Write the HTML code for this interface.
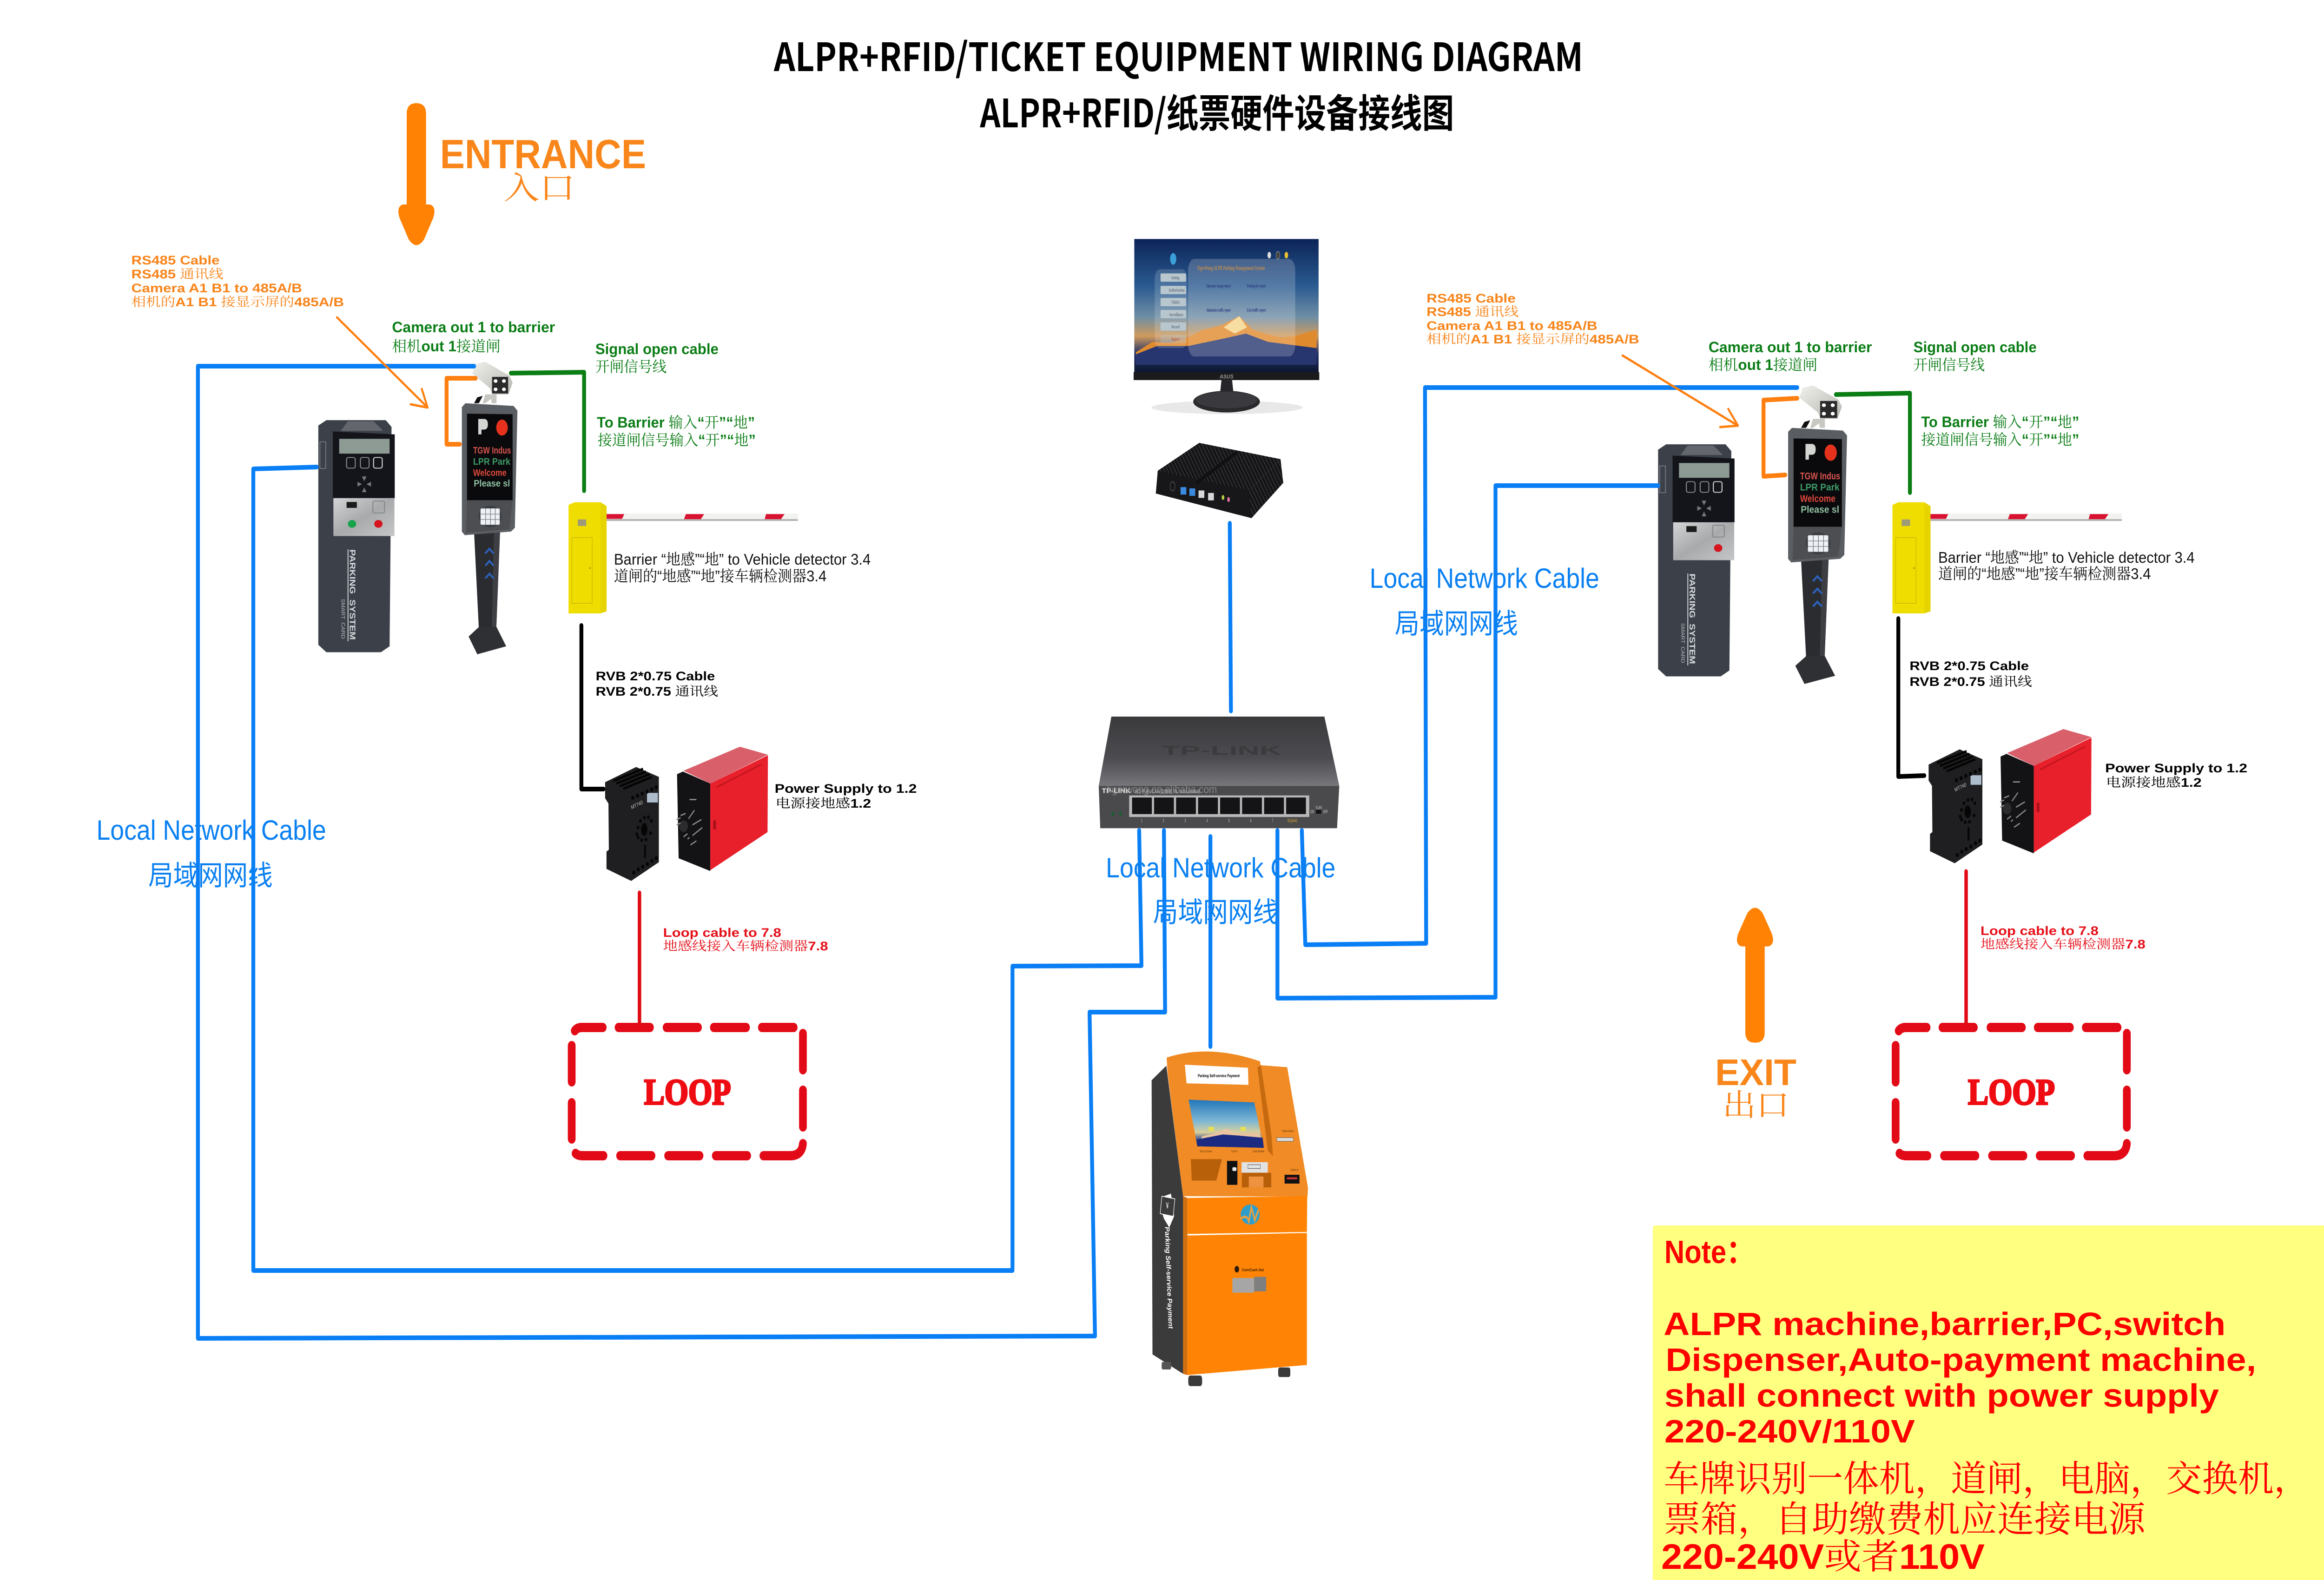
<!DOCTYPE html>
<html><head><meta charset="utf-8"><title>ALPR+RFID/Ticket Equipment Wiring Diagram</title>
<style>
html,body{margin:0;padding:0;background:#fff;width:100%;height:100%;overflow:hidden}
svg{display:block;position:absolute;left:0;top:0;width:100vw;height:100vh}
text{white-space:pre}
.b{font-family:"Liberation Sans","Noto Sans CJK SC",sans-serif;font-weight:700}
.r{font-family:"Liberation Sans","Noto Sans CJK SC",sans-serif;font-weight:400}
.c{font-family:"Noto Serif CJK SC","Liberation Serif",serif;font-weight:400}
.t{font-family:"Noto Sans CJK SC","Liberation Sans",sans-serif;font-weight:700;fill:#000;font-size:84px}
.or{fill:#f8841a;font-size:27px}
.gr{fill:#0b7d16;font-size:32px}
.gs{fill:#0b7d16;font-size:28px}
.bk{fill:#000;font-size:27px}
.rd{fill:#e5101a;font-size:27px}
.bl{fill:#0a80f2;font-size:60px}
.nt{fill:#ff0000;font-size:70px}
.led{font-family:"Liberation Sans",sans-serif;font-size:32px;font-weight:700}
.w{fill:none;stroke-linecap:round;stroke-linejoin:round}
</style></head>
<body>
<svg xmlns="http://www.w3.org/2000/svg" viewBox="0 0 6000 3400" preserveAspectRatio="none">
<defs>
<linearGradient id="steel" x1="0" y1="0" x2="1" y2="1"><stop offset="0" stop-color="#d2d4d6"/><stop offset=".5" stop-color="#a8aaac"/><stop offset="1" stop-color="#c4c6c8"/></linearGradient>
<linearGradient id="sky" x1="0" y1="0" x2="0" y2="1"><stop offset="0" stop-color="#0c2458"/><stop offset=".35" stop-color="#2a5a90"/><stop offset=".58" stop-color="#6f8ea4"/><stop offset=".72" stop-color="#d09a5c"/><stop offset=".85" stop-color="#1e2f6a"/><stop offset="1" stop-color="#0d1428"/></linearGradient>
<linearGradient id="ksky" x1="0" y1="0" x2="0" y2="1"><stop offset="0" stop-color="#2276ba"/><stop offset=".45" stop-color="#7fb7d4"/><stop offset=".68" stop-color="#d8cf9c"/><stop offset=".85" stop-color="#27408f"/><stop offset="1" stop-color="#17256c"/></linearGradient>
<linearGradient id="sw" x1="0" y1="0" x2="0" y2="1"><stop offset="0" stop-color="#3a3a3d"/><stop offset=".6" stop-color="#4c4c50"/><stop offset="1" stop-color="#77777b"/></linearGradient>
<linearGradient id="cam" x1="0" y1="0" x2="1" y2="1"><stop offset="0" stop-color="#f0f0ec"/><stop offset="1" stop-color="#b6b6b0"/></linearGradient>
<pattern id="fin" width="8" height="8" patternUnits="userSpaceOnUse" patternTransform="rotate(-30)"><rect width="8" height="8" fill="#141416"/><rect width="2" height="8" fill="#36363a"/></pattern>

<g id="pm">
<path d="M750,730 775,712 960,712 978,735 972,1475 945,1495 775,1495 750,1470Z" fill="#3c4049"/>
<path d="M820,748 842,716 922,716 952,748Z" fill="#63676d"/>
<path d="M795,750 988,760 988,975 795,975Z" fill="#13151a"/>
<rect x="815" y="775" width="157" height="50" fill="#8e9a94"/>
<rect x="838" y="838" width="27" height="36" rx="6" fill="none" stroke="#8a8c90" stroke-width="3"/>
<rect x="881" y="838" width="27" height="36" rx="6" fill="none" stroke="#8a8c90" stroke-width="3"/>
<rect x="922" y="838" width="27" height="36" rx="6" fill="none" stroke="#d8d8d8" stroke-width="3"/>
<path d="M886,902h14l-7,16zM886,955h14l-7,-16zM872,920v16l14,-8zM914,920v16l-14,-8z" fill="#777a7d"/>
<rect x="797" y="975" width="190" height="128" fill="url(#steel)"/>
<rect x="838" y="988" width="32" height="20" fill="#1b1b1b"/>
<rect x="920" y="985" width="36" height="40" rx="4" fill="none" stroke="#85878a" stroke-width="3"/>
<circle cx="937" cy="1062" r="13" fill="#d5141e"/>
<rect x="755" y="785" width="18" height="90" fill="none" stroke="#6f737a" stroke-width="3"/>
<rect x="841" y="1148" width="3" height="310" fill="#c8ccd0"/>
</g>

<g id="cp">
<path d="M1245,635 1235,655 1250,655 1262,630Z" fill="#111"/>
<path d="M1270,625 1305,625 1305,655 1290,655 1288,640 1270,655 1262,655Z" fill="#c8c8c2"/>
<path d="M1230,555 1240,522 1270,515 1345,562 1355,585 1342,625 1292,625 1285,605Z" fill="url(#cam)"/>
<rect x="1291" y="566" width="50" height="56" fill="#2a2a2a"/>
<circle cx="1302" cy="580" r="6" fill="#fff"/><circle cx="1328" cy="580" r="6" fill="#fff"/><circle cx="1302" cy="608" r="6" fill="#fff"/><circle cx="1328" cy="608" r="6" fill="#fff"/>
<path d="M1235,1090 1316,1085 1304,1420 1250,1420Z" fill="#2b2c30"/>
<path d="M1297,1087 1316,1085 1304,1420 1290,1420Z" fill="#3e3f44"/>
<path d="M1218,1442 1250,1410 1305,1410 1335,1475 1245,1502Z" fill="#2f3034"/>
<path d="M1197,668 1208,655 1358,664 1370,680 1362,1075 1350,1088 1206,1100 1197,1088Z" fill="#5a5d62"/>
<path d="M1213,690 1355,692 1355,985 1213,985Z" fill="#0a0a0c"/>
<path d="M1213,982 1355,982 1345,1080 1210,1092Z" fill="#4c4e52"/>
<path d="M1248,708h18q12,0 12,18t-12,18h-8v16h-10z" fill="#d4d6d4"/>
<ellipse cx="1322" cy="737" rx="18" ry="27" fill="#e6321c"/>
<ellipse cx="1285" cy="1037" rx="36" ry="36" fill="#3a3c40"/>
<rect x="1255" y="1010" width="60" height="55" rx="4" fill="#eef2f6"/>
<g fill="#7c8188"><rect x="1270" y="1010" width="2" height="55"/><rect x="1285" y="1010" width="2" height="55"/><rect x="1300" y="1010" width="2" height="55"/><rect x="1255" y="1028" width="60" height="2"/><rect x="1255" y="1046" width="60" height="2"/></g>
<path d="M1270,1162 1283,1146 1296,1162M1270,1203 1283,1187 1296,1203M1270,1246 1283,1230 1296,1246" fill="none" stroke="#2b62bd" stroke-width="6"/>
</g>

<g id="bar">
<path d="M168,606 190,597 285,597 308,610 308,965 285,972 168,972Z" fill="#f0dd00"/>
<path d="M285,597 308,610 308,965 285,972Z" fill="#e6d400"/>
<rect x="180" y="716" width="75" height="222" fill="none" stroke="#c4b400" stroke-width="2"/>
<rect x="202" y="655" width="31" height="22" fill="#9c9a78"/>
<circle cx="247" cy="819" r="3" fill="#a89800"/>
<rect x="308" y="635" width="704" height="25" fill="#f2f2f0"/>
<rect x="308" y="654" width="704" height="6" fill="#b0b0ae"/>
<path d="M308,637H373L365,653H308ZM600,637H667L655,654H593ZM895,637H963L950,654H890Z" fill="#d81230"/>
</g>

<g id="sock">
<path d="M318,145 475,88 590,125 590,445 450,515 325,470 325,405 337,398 335,225 318,205Z" fill="#1f1f21"/>
<path d="M360,140 510,95 M375,150 525,105 M392,160 542,115 M410,170 555,125" stroke="#050505" stroke-width="9" fill="none"/>
<rect x="530" y="185" width="55" height="36" fill="#aebccc"/>
<g fill="#060607"><circle cx="458" cy="204" r="8"/><circle cx="482" cy="196" r="8"/><circle cx="506" cy="188" r="8"/><circle cx="530" cy="180" r="8"/><circle cx="554" cy="172" r="8"/><circle cx="577" cy="164" r="8"/>
<circle cx="463" cy="484" r="8"/><circle cx="486" cy="472" r="8"/><circle cx="508" cy="462" r="8"/><circle cx="532" cy="452" r="8"/><circle cx="555" cy="440" r="8"/><circle cx="577" cy="430" r="8"/>
<ellipse cx="516" cy="322" rx="16" ry="24"/><circle cx="478" cy="340" r="7"/><circle cx="484" cy="315" r="7"/><circle cx="497" cy="290" r="7"/><circle cx="517" cy="278" r="7"/><circle cx="537" cy="276" r="7"/><circle cx="552" cy="290" r="7"/><circle cx="548" cy="336" r="7"/><circle cx="525" cy="360" r="7"/><circle cx="503" cy="362" r="7"/><circle cx="485" cy="352" r="7"/>
<rect x="515" y="380" width="10" height="50"/></g>
</g>

<g id="rbox">
<path d="M715,102 1000,12 1142,42 850,150Z" fill="#d9606a"/>
<path d="M850,150 1142,44 1140,332 850,475Z" fill="#e8202c"/>
<path d="M882,160 1112,74 1112,80 882,168Z" fill="#c81620"/>
<path d="M682,115 712,105 850,150 850,478 690,430Z" fill="#131315"/>
<circle cx="715" cy="310" r="22" fill="#2c2c2e"/>
<g stroke="#8a8a8a" stroke-width="5" fill="none"><path d="M700,270 725,262M740,282 770,250M760,305 805,285M760,345 810,315M715,350 735,338M680,285 700,278M680,305 700,298M735,358 745,352M750,380 780,365M745,210 780,210"/></g>
<rect x="865" y="288" width="14" height="34" fill="#a81018"/>
</g>

<g id="loop" fill="none" stroke="#e20a16" stroke-width="20" stroke-linecap="round" stroke-linejoin="round">
<path d="M1484,2218Q1490,2211 1502,2211H1556M1597,2211H1678M1721,2211H1802M1843,2211H1926M1967,2211H2049"/>
<path d="M1476,2250V2328M1476,2373V2451"/>
<path d="M2073,2224V2302M2073,2346V2425"/>
<path d="M1486,2482Q1492,2487 1504,2487H1558M1601,2487H1682M1725,2487H1806M1848,2487H1929M1971,2487H2040Q2070,2487 2073,2461"/>
</g>

<path id="arr" d="M1050,245Q1050,222 1075,222Q1100,222 1100,245L1100,440L1110,440Q1128,445 1118,470L1095,515Q1075,540 1055,515L1032,470Q1022,445 1040,440L1050,440Z" fill="#ff8205"/>
</defs>

<!-- titles -->
<text class="t" x="1998" y="153" textLength="2089" lengthAdjust="spacingAndGlyphs">ALPR+RFID/TICKET EQUIPMENT WIRING DIAGRAM</text>
<text class="t" x="2530" y="274" textLength="1224" lengthAdjust="spacingAndGlyphs">ALPR+RFID/纸票硬件设备接线图</text>

<!-- entrance / exit -->
<use href="#arr"/>
<text class="b" x="1136" y="362" font-size="88" fill="#f9861a" textLength="532" lengthAdjust="spacingAndGlyphs">ENTRANCE</text>
<text class="c" x="1300" y="428" font-size="68" fill="#f9861a" textLength="185" lengthAdjust="spacingAndGlyphs">入口</text>
<use href="#arr" transform="translate(4531,1953) scale(1,-.95) translate(-1075,-528)"/>
<text class="b" x="4428" y="2335" font-size="80" fill="#f9861a" textLength="210" lengthAdjust="spacingAndGlyphs">EXIT</text>
<text class="c" x="4447" y="2401" font-size="66" fill="#f9861a" textLength="173" lengthAdjust="spacingAndGlyphs">出口</text>

<!-- devices left -->
<g transform="translate(200,450) scale(.8291,.6378)">
<use href="#pm"/>
<circle cx="855" cy="1062" r="13" fill="#16a34a"/>
<text class="b" transform="translate(848,1148) rotate(90)" font-size="26" fill="#d6d9dc" textLength="305" lengthAdjust="spacingAndGlyphs">PARKING  SYSTEM</text>
<text class="r" transform="translate(822,1315) rotate(90)" font-size="16" fill="#b6babd" textLength="135" lengthAdjust="spacingAndGlyphs">SMART  CARD</text>
<use href="#cp"/>
<text class="led" x="1232" y="825" fill="#d9544f" textLength="118" lengthAdjust="spacingAndGlyphs">TGW Indus</text>
<text class="led" x="1232" y="862" fill="#3f9a68" textLength="116" lengthAdjust="spacingAndGlyphs">LPR Park</text>
<text class="led" x="1232" y="900" fill="#e0483c" textLength="104" lengthAdjust="spacingAndGlyphs">Welcome</text>
<text class="led" x="1234" y="936" fill="#8fc0a2" textLength="113" lengthAdjust="spacingAndGlyphs">Please sl</text>
</g>
<g transform="translate(1350,700) scale(.7015,.6378)"><use href="#bar"/></g>
<g transform="translate(1400,1600) scale(.5102,.574)"><use href="#sock"/><use href="#rbox"/>
<text class="r" x="452" y="247" font-size="20" fill="#c8c8c8" transform="rotate(-20 452 247)">MT740</text></g>
<use href="#loop"/>
<text x="1663" y="2376" font-family="Liberation Serif,serif" font-weight="700" font-size="78" fill="#ee0c12" stroke="#ee0c12" stroke-width="4" textLength="224" lengthAdjust="spacingAndGlyphs">LOOP</text>

<!-- devices right -->
<g transform="translate(3459,52)"><g transform="translate(200,450) scale(.8291,.6378)">
<use href="#pm"/>
<text class="b" transform="translate(848,1148) rotate(90)" font-size="26" fill="#d6d9dc" textLength="305" lengthAdjust="spacingAndGlyphs">PARKING  SYSTEM</text>
<text class="r" transform="translate(822,1315) rotate(90)" font-size="16" fill="#b6babd" textLength="135" lengthAdjust="spacingAndGlyphs">SMART  CARD</text>
</g></g>
<g transform="translate(4615,921) scale(1.06,1.02) translate(-1191,-868)"><g transform="translate(200,450) scale(.8291,.6378)">
<use href="#cp"/>
<text class="led" x="1232" y="825" fill="#d9544f" textLength="118" lengthAdjust="spacingAndGlyphs">TGW Indus</text>
<text class="led" x="1232" y="862" fill="#3f9a68" textLength="116" lengthAdjust="spacingAndGlyphs">LPR Park</text>
<text class="led" x="1232" y="900" fill="#e0483c" textLength="104" lengthAdjust="spacingAndGlyphs">Welcome</text>
<text class="led" x="1234" y="936" fill="#8fc0a2" textLength="113" lengthAdjust="spacingAndGlyphs">Please sl</text>
</g></g>
<g transform="translate(3418,0)"><g transform="translate(1350,700) scale(.7015,.6378)"><use href="#bar"/></g></g>
<g transform="translate(3417,-38)"><g transform="translate(1400,1600) scale(.5102,.574)"><use href="#sock"/><use href="#rbox"/>
<text class="r" x="452" y="247" font-size="20" fill="#c8c8c8" transform="rotate(-20 452 247)">MT740</text></g></g>
<use href="#loop" transform="translate(3418,0)"/>
<text x="5081" y="2376" font-family="Liberation Serif,serif" font-weight="700" font-size="78" fill="#ee0c12" stroke="#ee0c12" stroke-width="4" textLength="224" lengthAdjust="spacingAndGlyphs">LOOP</text>

<!-- monitor -->
<g transform="translate(2700,450) scale(.574,.8929)">
<ellipse cx="815" cy="478" rx="340" ry="16" fill="#e8e8e8"/>
<rect x="398" y="72" width="829" height="325" fill="url(#sky)"/>
<path d="M405,345 480,320 560,322 640,310 700,292 790,280 870,258 930,290 985,300 1060,310 1130,305 1218,290V352L1100,362 900,345 700,352 560,362 405,350Z" fill="#e08a2e"/>
<path d="M405,350 500,330 640,330 800,312 900,300 1000,320 1218,335V375H405Z" fill="#27366f"/>
<path d="M800,285 870,258 905,285 850,300Z" fill="#f6d58a"/>
<rect x="490" y="145" width="145" height="190" rx="22" fill="#fff" fill-opacity=".16"/>
<rect x="640" y="120" width="482" height="235" rx="28" fill="#fff" fill-opacity=".2"/>
<g fill="#b8c6ce"><rect x="516" y="155" width="115" height="20" rx="3"/><rect x="516" y="185" width="115" height="20" rx="3"/><rect x="516" y="214" width="115" height="20" rx="3"/><rect x="516" y="243" width="115" height="20" rx="3"/><rect x="516" y="273" width="115" height="20" rx="3"/><rect x="516" y="303" width="115" height="20" rx="3" fill-opacity=".35"/></g>
<g font-family="Liberation Serif,serif" font-size="12" font-weight="700">
<text x="680" y="147" fill="#c08a50" font-size="15" textLength="305" lengthAdjust="spacingAndGlyphs">TigerWong ALPR Parking Management System</text>
<text x="722" y="189" fill="#2a3a80" textLength="110" lengthAdjust="spacingAndGlyphs">Operator charge report</text>
<text x="905" y="189" fill="#2a3a80" textLength="85" lengthAdjust="spacingAndGlyphs">Parking fee report</text>
<text x="722" y="247" fill="#2a3a80" textLength="110" lengthAdjust="spacingAndGlyphs">Admission traffic report</text>
<text x="905" y="247" fill="#2a3a80" textLength="85" lengthAdjust="spacingAndGlyphs">Exit traffic report</text>
<text x="565" y="169" fill="#6a7480">Setting</text><text x="552" y="199" fill="#6a7480">Authorization</text><text x="565" y="228" fill="#6a7480">Vehicle</text><text x="555" y="258" fill="#6a7480">Surveillance</text><text x="565" y="287" fill="#6a7480">Record</text><text x="565" y="317" fill="#c06040">Report</text>
</g>
<circle cx="573" cy="120" r="14" fill="#3ca0d8"/><circle cx="1005" cy="111" r="8" fill="#ddd"/><circle cx="1044" cy="111" r="9" fill="#444" stroke="#ccc"/><circle cx="1082" cy="111" r="8" fill="#e8c030"/>
<rect x="395" y="393" width="835" height="19" fill="#1b1b1d"/>
<text x="782" y="408" font-family="Liberation Sans,sans-serif" font-size="13" font-weight="700" fill="#999" font-style="italic" textLength="62" lengthAdjust="spacingAndGlyphs">ASUS</text>
<path d="M790,412H838L845,448H783Z" fill="#26262a"/>
<ellipse cx="813" cy="464" rx="150" ry="26" fill="#2a2a2d"/>
<ellipse cx="813" cy="460" rx="138" ry="20" fill="#3a3a3e"/>
</g>

<!-- mini pc -->
<path d="M2984,1062 2989,1013 3225,1052 3313,1039 3231,1115Z" fill="#17171a"/>
<path d="M2989,1013 3096,953 3306,988 3225,1055Z" fill="url(#fin)"/>
<path d="M3225,1055 3306,988 3313,1039 3231,1115Z" fill="url(#fin)"/>
<path d="M3088,1040 3195,972" stroke="#101012" stroke-width="7" fill="none"/>
<g transform="translate(2700,450) scale(.574,.8929)">
<rect x="606" y="670" width="26" height="18" fill="#3a8ae0"/><rect x="646" y="673" width="26" height="18" fill="#3a8ae0"/><rect x="687" y="678" width="26" height="18" fill="#d8d8d8"/><rect x="730" y="684" width="26" height="18" fill="#d8d8d8"/>
<circle cx="797" cy="695" r="6" fill="#b8d040"/><circle cx="822" cy="700" r="6" fill="#e070a0"/><circle cx="570" cy="668" r="11" fill="none" stroke="#555" stroke-width="2"/>
</g>

<!-- switch -->
<g transform="translate(2700,450) scale(.574,.8929)">
<path d="M295,1223H1253L1320,1390H238Z" fill="url(#sw)"/>
<path d="M238,1390H1320L1310,1492H245Z" fill="#4a4a4d"/>
<text x="520" y="1315" font-family="Liberation Sans,sans-serif" font-size="30" font-weight="700" fill="#3b3b3e" textLength="540" lengthAdjust="spacingAndGlyphs">TP-LINK</text>
<rect x="375" y="1413" width="810" height="52" fill="#b8b8b8"/>
<g fill="#141416">
<rect x="388" y="1418" width="89" height="40"/><rect x="487" y="1418" width="89" height="40"/><rect x="586" y="1418" width="89" height="40"/><rect x="685" y="1418" width="89" height="40"/><rect x="784" y="1418" width="89" height="40"/><rect x="883" y="1418" width="89" height="40"/><rect x="982" y="1418" width="89" height="40"/><rect x="1081" y="1418" width="89" height="40"/>
</g>
<text x="252" y="1407" font-family="Liberation Sans,sans-serif" font-size="17" font-weight="700" fill="#eee" textLength="130" lengthAdjust="spacingAndGlyphs">TP-LINK</text>
<text x="400" y="1408" font-family="Liberation Sans,sans-serif" font-size="12" fill="#ccc" textLength="295" lengthAdjust="spacingAndGlyphs">8口千兆VLAN交换机 TL-SG1008VE</text>
<text x="275" y="1407" font-family="Liberation Sans,sans-serif" font-size="26" fill="#9a9a9a" fill-opacity=".75" textLength="495" lengthAdjust="spacingAndGlyphs">tigerwong.en.alibaba.com</text>
<g font-family="Liberation Sans,sans-serif" font-size="11" fill="#d0d0d0"><text x="428" y="1477">1</text><text x="526" y="1477">2</text><text x="624" y="1477">3</text><text x="723" y="1477">4</text><text x="821" y="1477">5</text><text x="919" y="1477">6</text><text x="1017" y="1477">7</text><text x="1087" y="1477" fill="#d8a030">8(Uplink)</text>
<text x="1190" y="1456">ON</text><text x="1213" y="1446">VLAN</text><text x="1247" y="1456">OFF</text></g>
<rect x="1215" y="1448" width="24" height="9" fill="#111"/>
<circle cx="301" cy="1457" r="6" fill="#1f5c36"/><circle cx="336" cy="1457" r="6" fill="#1f5c36"/>
</g>

<!-- kiosk -->
<g transform="translate(2800,2200) scale(.4464,.5421)">
<path d="M388,230 473,172 570,690 570,1395 393,1318Z" fill="#3b3b3b"/>
<path d="M475,140Q720,85 1015,155L1018,170 1172,178 1292,655 1290,692 570,690 480,200Z" fill="#f18b25"/>
<path d="M475,140Q720,85 1015,155L1015,170Q760,145 495,150Z" fill="#ef8a22"/>
<path d="M1000,178 1020,172 1080,440 1090,530 1060,510 1040,400Z" fill="#c66a10"/>
<path d="M580,168 945,180 948,248 590,242Z" fill="#fff"/>
<text class="b" x="655" y="218" font-size="17" fill="#000" textLength="242" lengthAdjust="spacingAndGlyphs">Parking Self-service Payment</text>
<path d="M602,307 982,318 1037,498 652,492Z" fill="url(#ksky)"/>
<path d="M680,452 760,440 820,422 880,440 1010,440 1030,470 670,470Z" fill="#eac4a0"/>
<path d="M650,465 800,445 900,450 1030,458 1037,498 652,492Z" fill="#1c2b82"/>
<rect x="718" y="415" width="30" height="16" fill="#e8e050"/><rect x="902" y="415" width="30" height="16" fill="#e8e050"/>
<path d="M615,543H795L762,628H620Z" fill="#b85f0a"/>
<rect x="824" y="550" width="60" height="95" fill="#111"/><rect x="855" y="575" width="24" height="15" rx="5" fill="#e8e8e8"/>
<rect x="908" y="555" width="152" height="42" fill="#e2e2e2"/><rect x="945" y="565" width="72" height="15" fill="none" stroke="#555" stroke-width="2"/>
<path d="M910,597H1080L1080,655H910Z" fill="#b85f0a"/><rect x="950" y="612" width="85" height="43" fill="#ef9240"/>
<rect x="1157" y="605" width="86" height="35" fill="#111"/><rect x="1170" y="615" width="60" height="8" fill="#c33"/>
<rect x="1112" y="458" width="95" height="14" fill="#ddd" stroke="#666" stroke-width="2"/>
<g font-family="Liberation Sans,sans-serif" font-size="12" fill="#5a3408"><text x="665" y="516">Touch Screen</text><text x="848" y="516">Coin In</text><text x="972" y="516">Card Reader</text><text x="1142" y="435">Ticket Outlet</text><text x="1192" y="590" font-size="13">Cash In</text></g>
<path d="M570,690 595,697 595,1400 570,1395Z" fill="#cf6f10"/>
<path d="M595,697 1288,690 1286,832 595,840Z" fill="#ff8405"/>
<path d="M595,846 1286,836 1286,1360 595,1400Z" fill="#ff8405"/>
<ellipse cx="958" cy="763" rx="55" ry="40" fill="#2f9ecb"/>
<path d="M900,780Q940,760 950,790L965,735 985,785 1005,745" fill="none" stroke="#e8a040" stroke-width="9"/>
<text class="b" x="910" y="988" font-size="15" fill="#3a2005" textLength="127" lengthAdjust="spacingAndGlyphs">Coin/Cash Out</text>
<circle cx="881" cy="980" r="13" fill="#2a1a0a"/>
<rect x="855" y="1015" width="126" height="58" fill="#a6a6a6"/><rect x="981" y="1010" width="70" height="58" fill="#7f7f7f"/>
<rect x="600" y="1402" width="80" height="42" rx="12" fill="#3a3a3a"/><rect x="1120" y="1370" width="70" height="38" rx="10" fill="#3a3a3a"/><rect x="446" y="1348" width="55" height="30" rx="8" fill="#555"/>
<path d="M460,690 500,680 518,770 490,815 460,780 440,740Z" fill="#fff"/>
<rect x="442" y="695" width="76" height="70" fill="#3b3b3b" stroke="#fff" stroke-width="3" transform="rotate(8 480 730)"/>
<text transform="translate(471,738)" fill="#fff" font-size="34" font-family="Liberation Serif,serif">¥</text>
<text class="b" transform="translate(465,812) rotate(87)" font-size="38" font-style="italic" fill="#fff" textLength="405" lengthAdjust="spacingAndGlyphs">Parking Self-service Payment</text>
</g>

<!-- blue wires -->
<g class="w" stroke="#0a7ff5" stroke-width="10">
<path d="M1224,788H511V2880L2827,2875 2813,2178H3008L3005,1787"/>
<path d="M818,1005 654,1009V2734H2614V2079L2947,2078 2941,1787"/>
<path d="M3125,1800V2252"/>
<path d="M3175,1126 3178,1530"/>
<path d="M3298,1787V2148L3861,2146V1045H4281"/>
<path d="M3361,1787 3370,2033 3682,2030 3679,834H4640"/>
</g>
<!-- orange -->
<g class="w" stroke="#ff7f10" stroke-width="10">
<path d="M1228,814H1153V956H1187"/>
<path d="M4640,857 4553,861V1025L4609,1022"/>
</g>
<g class="w" stroke="#ff7f10" stroke-width="5">
<path d="M870,683 1104,877M1089,837 1104,877 1060,870"/>
<path d="M4189,765 4487,916M4462,880 4487,916 4441,919"/>
</g>
<!-- green -->
<g class="w" stroke="#0a7d14" stroke-width="10">
<path d="M1319,803 1508,801V1056"/>
<path d="M4740,849 4931,846V1060"/>
</g>
<!-- black -->
<g class="w" stroke="#000" stroke-width="10">
<path d="M1501,1346V1698H1558"/>
<path d="M4901,1331V1671L4968,1669"/>
</g>
<!-- red -->
<g class="w" stroke="#e00b14" stroke-width="9">
<path d="M1651,1921V2203"/>
<path d="M5076,1875V2203"/>
</g>

<!-- left labels -->
<g class="b or">
<text x="339" y="569" textLength="228" lengthAdjust="spacingAndGlyphs">RS485 Cable</text>
<text x="339" y="599" textLength="238" lengthAdjust="spacingAndGlyphs">RS485 <tspan class="c">通讯线</tspan></text>
<text x="339" y="629" textLength="441" lengthAdjust="spacingAndGlyphs">Camera A1 B1 to 485A/B</text>
<text x="339" y="659" textLength="549" lengthAdjust="spacingAndGlyphs"><tspan class="c">相机的</tspan>A1 B1 <tspan class="c">接显示屏的</tspan>485A/B</text>
</g>
<g class="b gr">
<text x="1012" y="715" textLength="421" lengthAdjust="spacingAndGlyphs">Camera out 1 to barrier</text>
<text x="1012" y="756" textLength="280" lengthAdjust="spacingAndGlyphs"><tspan class="c">相机</tspan>out 1<tspan class="c">接道闸</tspan></text>
<text x="1537" y="762" textLength="318" lengthAdjust="spacingAndGlyphs">Signal open cable</text>
<text class="c" x="1537" y="800" textLength="184" lengthAdjust="spacingAndGlyphs">开闸信号线</text>
<text x="1541" y="920" textLength="408" lengthAdjust="spacingAndGlyphs">To Barrier <tspan class="c">输入</tspan>“<tspan class="c">开</tspan>”“<tspan class="c">地</tspan>”</text>
<text x="1543" y="958" textLength="408" lengthAdjust="spacingAndGlyphs"><tspan class="c">接道闸信号输入</tspan>“<tspan class="c">开</tspan>”“<tspan class="c">地</tspan>”</text>
</g>
<g class="r" font-size="33" fill="#111">
<text x="1585" y="1215" textLength="663" lengthAdjust="spacingAndGlyphs">Barrier “<tspan class="c">地感</tspan>”“<tspan class="c">地</tspan>” to Vehicle detector 3.4</text>
<text x="1585" y="1251" textLength="549" lengthAdjust="spacingAndGlyphs"><tspan class="c">道闸的</tspan>“<tspan class="c">地感</tspan>”“<tspan class="c">地</tspan>”<tspan class="c">接车辆检测器</tspan>3.4</text>
</g>
<g class="b bk">
<text x="1538" y="1464" textLength="308" lengthAdjust="spacingAndGlyphs">RVB 2*0.75 Cable</text>
<text x="1538" y="1497" textLength="316" lengthAdjust="spacingAndGlyphs">RVB 2*0.75 <tspan class="c">通讯线</tspan></text>
<text x="2000" y="1706" textLength="367" lengthAdjust="spacingAndGlyphs">Power Supply to 1.2</text>
<text x="2002" y="1738" textLength="247" lengthAdjust="spacingAndGlyphs"><tspan class="c">电源接地感</tspan>1.2</text>
</g>
<g class="b rd">
<text x="1712" y="2016" textLength="305" lengthAdjust="spacingAndGlyphs">Loop cable to 7.8</text>
<text x="1712" y="2045" textLength="426" lengthAdjust="spacingAndGlyphs"><tspan class="c">地感线接入车辆检测器</tspan>7.8</text>
</g>

<!-- right labels -->
<g class="b or">
<text x="3683" y="651" textLength="230" lengthAdjust="spacingAndGlyphs">RS485 Cable</text>
<text x="3683" y="680" textLength="238" lengthAdjust="spacingAndGlyphs">RS485 <tspan class="c">通讯线</tspan></text>
<text x="3683" y="710" textLength="441" lengthAdjust="spacingAndGlyphs">Camera A1 B1 to 485A/B</text>
<text x="3683" y="739" textLength="549" lengthAdjust="spacingAndGlyphs"><tspan class="c">相机的</tspan>A1 B1 <tspan class="c">接显示屏的</tspan>485A/B</text>
</g>
<g class="b gr">
<text x="4411" y="758" textLength="422" lengthAdjust="spacingAndGlyphs">Camera out 1 to barrier</text>
<text x="4411" y="796" textLength="281" lengthAdjust="spacingAndGlyphs"><tspan class="c">相机</tspan>out 1<tspan class="c">接道闸</tspan></text>
<text x="4940" y="758" textLength="318" lengthAdjust="spacingAndGlyphs">Signal open cable</text>
<text class="c" x="4940" y="796" textLength="184" lengthAdjust="spacingAndGlyphs">开闸信号线</text>
<text x="4960" y="919" textLength="408" lengthAdjust="spacingAndGlyphs">To Barrier <tspan class="c">输入</tspan>“<tspan class="c">开</tspan>”“<tspan class="c">地</tspan>”</text>
<text x="4960" y="957" textLength="408" lengthAdjust="spacingAndGlyphs"><tspan class="c">接道闸信号输入</tspan>“<tspan class="c">开</tspan>”“<tspan class="c">地</tspan>”</text>
</g>
<g class="r" font-size="33" fill="#111">
<text x="5004" y="1211" textLength="662" lengthAdjust="spacingAndGlyphs">Barrier “<tspan class="c">地感</tspan>”“<tspan class="c">地</tspan>” to Vehicle detector 3.4</text>
<text x="5004" y="1246" textLength="549" lengthAdjust="spacingAndGlyphs"><tspan class="c">道闸的</tspan>“<tspan class="c">地感</tspan>”“<tspan class="c">地</tspan>”<tspan class="c">接车辆检测器</tspan>3.4</text>
</g>
<g class="b bk">
<text x="4930" y="1442" textLength="308" lengthAdjust="spacingAndGlyphs">RVB 2*0.75 Cable</text>
<text x="4930" y="1476" textLength="316" lengthAdjust="spacingAndGlyphs">RVB 2*0.75 <tspan class="c">通讯线</tspan></text>
<text x="5435" y="1662" textLength="367" lengthAdjust="spacingAndGlyphs">Power Supply to 1.2</text>
<text x="5437" y="1693" textLength="247" lengthAdjust="spacingAndGlyphs"><tspan class="c">电源接地感</tspan>1.2</text>
</g>
<g class="b rd">
<text x="5113" y="2012" textLength="305" lengthAdjust="spacingAndGlyphs">Loop cable to 7.8</text>
<text x="5113" y="2041" textLength="426" lengthAdjust="spacingAndGlyphs"><tspan class="c">地感线接入车辆检测器</tspan>7.8</text>
</g>

<!-- network labels -->
<g class="r bl">
<text x="249" y="1807" textLength="593" lengthAdjust="spacingAndGlyphs">Local Network Cable</text>
<text x="383" y="1905" textLength="321" lengthAdjust="spacingAndGlyphs">局域网网线</text>
<text x="3536" y="1265" textLength="593" lengthAdjust="spacingAndGlyphs">Local Network Cable</text>
<text x="3601" y="1363" textLength="318" lengthAdjust="spacingAndGlyphs">局域网网线</text>
<text x="2855" y="1888" textLength="593" lengthAdjust="spacingAndGlyphs">Local Network Cable</text>
<text x="2977" y="1984" textLength="322" lengthAdjust="spacingAndGlyphs">局域网网线</text>
</g>

<!-- note -->
<path d="M4267,2645Q4267,2637 4275,2637H6000V3400H4267Z" fill="#ffff80"/>
<g class="b nt">
<text x="4297" y="2718" textLength="232" lengthAdjust="spacingAndGlyphs">Note：</text>
<text x="4295" y="2873" textLength="1451" lengthAdjust="spacingAndGlyphs">ALPR machine,barrier,PC,switch</text>
<text x="4300" y="2950" textLength="1525" lengthAdjust="spacingAndGlyphs">Dispenser,Auto-payment machine,</text>
<text x="4297" y="3027" textLength="1432" lengthAdjust="spacingAndGlyphs">shall connect with power supply</text>
<text x="4297" y="3104" textLength="647" lengthAdjust="spacingAndGlyphs">220-240V/110V</text>
<text class="c" x="4295" y="3209" font-size="78" textLength="1668" lengthAdjust="spacingAndGlyphs">车牌识别一体机，道闸，电脑，交换机，</text>
<text class="c" x="4295" y="3296" font-size="78" textLength="1244" lengthAdjust="spacingAndGlyphs">票箱，自助缴费机应连接电源</text>
<text x="4289" y="3376" font-size="76" textLength="835" lengthAdjust="spacingAndGlyphs">220-240V<tspan class="c">或者</tspan>110V</text>
</g>
</svg>
</body></html>
